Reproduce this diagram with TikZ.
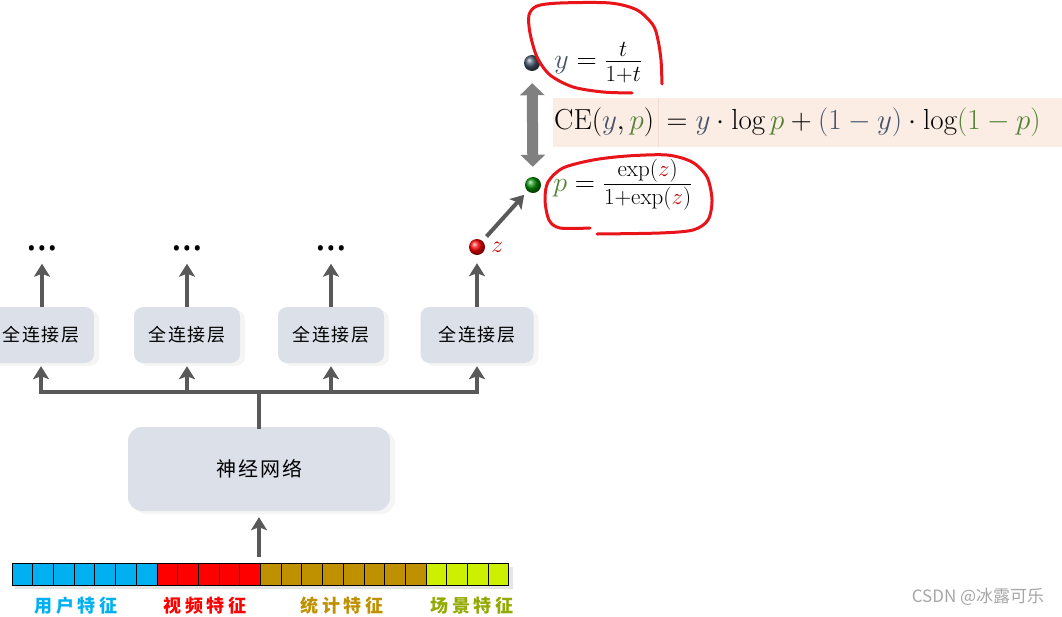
\RequirePackage{fix-cm}
\documentclass[tikz,border=0pt]{standalone}
\usepackage{fontspec}
\usepackage{amsmath}
\usepackage{xcolor}
\usetikzlibrary{arrows.meta,shadows}
\newfontfamily\cjk{Noto Sans CJK SC}
\newfontfamily\dotfont{Noto Sans}

\definecolor{boxfill}{RGB}{220,224,233}
\definecolor{arrowgray}{RGB}{89,89,89}
\definecolor{userblue}{RGB}{0,176,240}
\definecolor{videored}{RGB}{255,0,0}
\definecolor{statgold}{RGB}{191,144,0}
\definecolor{scenelime}{RGB}{204,240,0}
\definecolor{scenetext}{RGB}{146,170,0}
\definecolor{slate}{RGB}{68,84,106}
\definecolor{pgreen}{RGB}{84,130,53}
\definecolor{cefill}{RGB}{251,236,228}
\definecolor{celine}{RGB}{242,222,210}
\definecolor{zred}{RGB}{192,0,0}
\definecolor{markred}{RGB}{232,20,26}

% smaller text inside the fractions
\newcommand{\fracnum}[1]{\mbox{\fontsize{23}{25}\selectfont$#1$\rule[-3pt]{0pt}{3pt}}}
\newcommand{\fracden}[1]{\mbox{\fontsize{23}{25}\selectfont\rule{0pt}{19pt}$#1$}}

\tikzset{
  layerbox/.style={fill=boxfill, rounded corners=9pt, minimum height=56pt, inner sep=0pt,
    font=\cjk\fontsize{18}{20}\selectfont\addfontfeatures{LetterSpace=8},
    drop shadow={opacity=0.08, shadow xshift=5pt, shadow yshift=-3pt}},
  flow/.style={draw=arrowgray, line width=4pt, -{Stealth[length=13pt,width=16pt,inset=3pt]}},
  trunk/.style={draw=arrowgray, line width=4pt, line cap=rect},
  orb/.style={circle, minimum size=16pt, inner sep=0pt, shading=ball, ball color=#1},
  dotsnode/.style={inner sep=0pt, text height=0pt, text depth=0pt, font=\dotfont\fontsize{40}{40}\selectfont},
  cecell/.style={fill=cefill, minimum height=49pt, inner ysep=0pt, align=left, anchor=north west,
    font=\fontsize{29}{31}\selectfont},
  featlabel/.style={font=\cjk\bfseries\fontsize{18}{20}\selectfont\addfontfeatures{LetterSpace=20}},
  annot/.style={draw=markred, line width=3pt, line cap=round, line join=round}
}

\begin{document}
\begin{tikzpicture}[x=1pt, y=-1pt]
    \useasboundingbox (0,0) rectangle (1062,616);
    \clip (0,0) rectangle (1062,616);

    % Feature vector at the bottom
    \def\featureColors{userblue,userblue,userblue,userblue,userblue,userblue,userblue,videored,videored,videored,videored,videored,statgold,statgold,statgold,statgold,statgold,statgold,statgold,statgold,scenelime,scenelime,scenelime,scenelime}
    \fill[black, opacity=0.1] (15,567) rectangle (513,589);
    \foreach \c [count=\i from 0] in \featureColors {
        \draw[fill=\c, line width=0.8pt] ({12+\i*20.7},563) rectangle ({12+(\i+1)*20.7},585);
    }
    \coordinate (featin) at (259,557);

    % Feature group labels
    \node[featlabel, text=userblue] (userlbl) at (76,606) {用户特征};
    \node[featlabel, text=videored] (videolbl) at (205,606) {视频特征};
    \node[featlabel, text=statgold] (statlbl) at (342,606) {统计特征};
    \node[featlabel, text=scenetext] (scenelbl) at (472,606) {场景特征};

    % Shared network
    \node[layerbox, minimum width=262pt, minimum height=84pt, rounded corners=14pt,
          font=\cjk\fontsize{20}{22}\selectfont\addfontfeatures{LetterSpace=10}] (nn) at (259,469) {神经网络};
    \draw[flow, shorten >=6pt] (featin) -- (nn.south);

    % Fully connected heads
    \foreach \name/\x/\w in {fc1/41/106pt, fc2/187/106pt, fc3/331/106pt, fc4/477/113pt} {
        \node[layerbox, minimum width=\w] (\name) at (\x,335) {全连接层};
    }

    % Split from the network to the heads
    \coordinate (split) at (259,392);
    \draw[trunk] (nn.north) -- (split);
    \draw[trunk] (split -| fc1) -- (split -| fc4);
    \foreach \name in {fc1,fc2,fc3,fc4} {
        \draw[flow, shorten >=3pt] (split -| \name) -- (\name.south);
    }

    % Outputs of the heads
    \foreach \name/\x in {dots1/42, dots2/187, dots3/331} {
        \node[dotsnode] (\name) at (\x,250) {…};
    }
    \draw[flow, shorten >=13pt] (fc1.north -| dots1) -- (dots1.south);
    \draw[flow, shorten >=13pt] (fc2.north) -- (dots2.south);
    \draw[flow, shorten >=13pt] (fc3.north) -- (dots3.south);

    \node[orb=red] (zball) at (477,247) {};
    \node[anchor=west, text=zred, font=\fontsize{24}{24}\selectfont, inner sep=6pt] (zlbl) at (zball.east) {$z$};
    \draw[flow, shorten >=8pt] (fc4.north) -- (zball);

    % Prediction and label
    \node[orb=green!55!black] (pball) at (533,185) {};
    \node[orb=slate] (yball) at (532,63) {};
    \draw[flow, shorten <=6pt, shorten >=5pt] (zball) -- (pball);
    \draw[draw=gray, line width=11pt, {Triangle[length=12pt,width=24pt]}-{Triangle[length=12pt,width=24pt]},
          shorten <=12pt, shorten >=10pt] (yball) -- (pball);

    \node[anchor=west, inner sep=0pt, xshift=14pt, font=\fontsize{28}{30}\selectfont] (yform) at (yball.east)
        {${\color{slate}y} = \frac{\fracnum{t}}{\fracden{1{+}t}}$};
    \node[anchor=west, inner sep=0pt, xshift=12pt, font=\fontsize{28}{30}\selectfont] (pform) at (pball.east)
        {${\color{pgreen}p} = \frac{\fracnum{\mathrm{exp}({\color{zred}z})}}{\fracden{1{+}\mathrm{exp}({\color{zred}z})}}$};

    % Cross entropy
    \node[cecell, text width=103pt, inner xsep=1pt] (celeft) at (553,98)
        {$\mathrm{CE}({\color{slate}y},{\color{pgreen}p})$};
    \node[cecell, text width=388pt, inner xsep=8pt] (ceright) at (celeft.north east)
        {$= {\color{slate}y}\cdot\log{\color{pgreen}p} + {\color{slate}(1-y)}\cdot\log\mathopen{\color{pgreen}(}{\color{pgreen}1-p}\mathclose{\color{pgreen})}$};
    \draw[celine, line width=1pt] (celeft.north east) -- (celeft.south east);

    % Hand drawn marks
    \draw[annot] plot[smooth] coordinates {(662,84) (661,60) (658,40) (653,25) (637,10) (610,3) (560,3)
        (537,6) (529,15) (530,33) (537,57) (550,75) (573,87) (603,92) (632,93)};
    \draw[annot] plot[smooth] coordinates {(590,228) (560,228) (549,220) (545,200) (548,182) (563,168)
        (593,160) (627,156) (667,155) (692,162) (707,177) (712,200) (708,220) (693,230) (660,233) (597,234)};

    % Watermark
    \node[text=gray!70, font=\cjk\fontsize{17}{18}\selectfont] (mark) at (978,597) {CSDN @冰露可乐};
\end{tikzpicture}
\end{document}
